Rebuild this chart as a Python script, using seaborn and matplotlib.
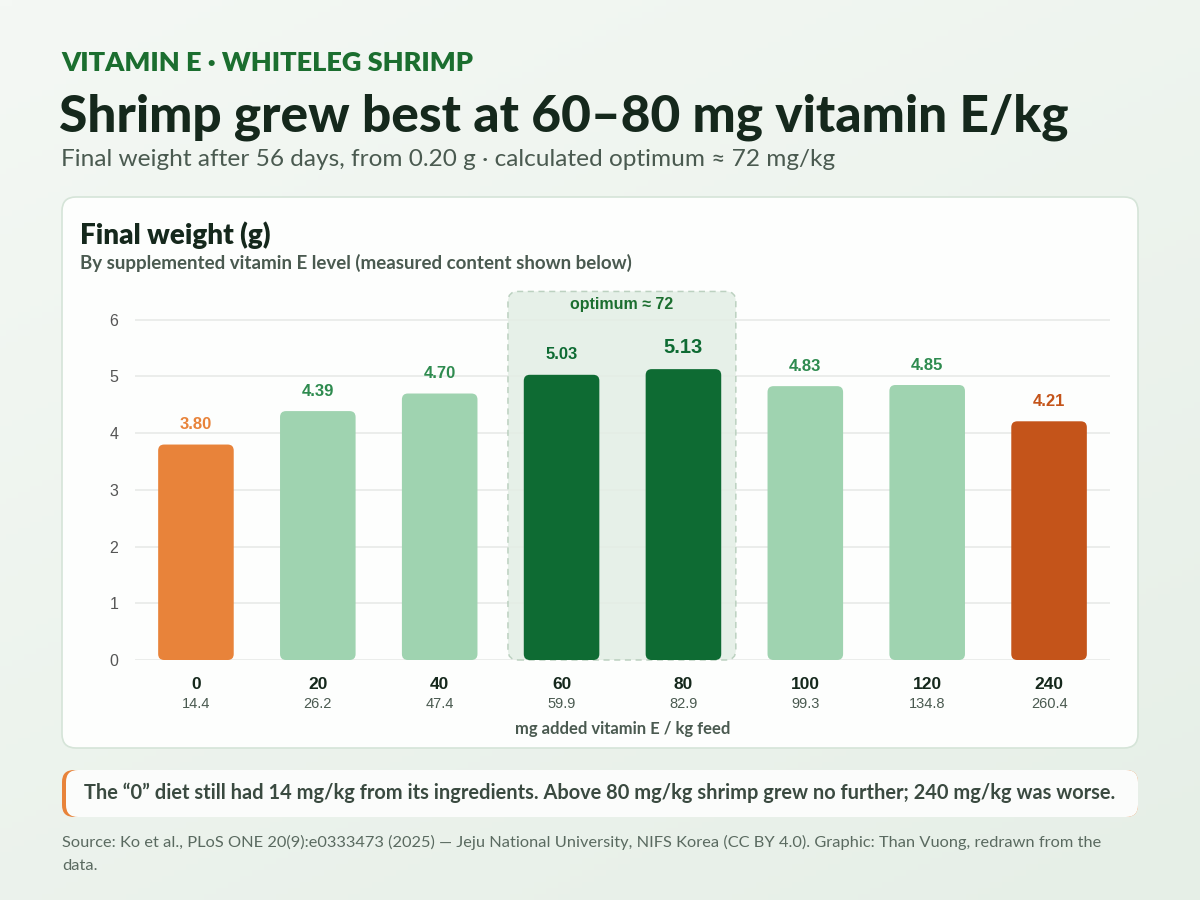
import numpy as np
import seaborn as sns
import matplotlib.pyplot as plt
from matplotlib.patches import FancyBboxPatch
from matplotlib.colors import LinearSegmentedColormap

# data
levels = ["0", "20", "40", "60", "80", "100", "120", "240"]
measured = ["14.4", "26.2", "47.4", "59.9", "82.9", "99.3", "134.8", "260.4"]
weights = [3.80, 4.39, 4.70, 5.03, 5.13, 4.83, 4.85, 4.21]
bar_colors = ["#E8833A", "#9FD3B0", "#9FD3B0", "#0E6B33", "#0E6B33", "#9FD3B0", "#9FD3B0", "#C4541A"]
label_colors = ["#E8833A", "#2E8B4F", "#2E8B4F", "#0E6B33", "#0E6B33", "#2E8B4F", "#2E8B4F", "#C4541A"]
optimum = 72

sns.set_theme(style="white")
plt.rcParams['font.family'] = ['Lato', 'DejaVu Sans']

fig = plt.figure(figsize=(12, 9), dpi=100)

# background in pixel coordinates
bg = fig.add_axes([0, 0, 1, 1])
bg.set_xlim(0, 1200)
bg.set_ylim(900, 0)
bg.axis("off")
grad = LinearSegmentedColormap.from_list("bg", ["#F4F8F4", "#E6EFE7"])
gx, gy = np.meshgrid(np.linspace(0, 1, 200), np.linspace(0, 1, 150))
bg.imshow(0.6 * gy + 0.4 * gx, cmap=grad, extent=(0, 1200, 900, 0), aspect="auto", zorder=0)

# header
bg.text(61, 63, "VITAMIN E · WHITELEG SHRIMP", fontsize=19.5, fontweight="heavy", color="#1B6E2F",
        va="center", ha="left")
bg.text(59, 117, "Shrimp grew best at 60–80 mg vitamin E/kg", fontsize=37, fontweight="black",
        color="#15281C", va="center", ha="left")
bg.text(61, 160, "Final weight after 56 days, from 0.20 g · calculated optimum ≈ 72 mg/kg", fontsize=17.6,
        color="#4A5A50", va="center", ha="left")

# card
bg.add_patch(FancyBboxPatch((62, 197), 1076, 551, boxstyle="round,pad=0,rounding_size=14",
                            fc="#FDFEFD", ec="#D5E4D8", lw=1.2, zorder=1))
bg.text(80, 235, "Final weight (g)", fontsize=20, fontweight="heavy", color="#15281C", va="center")
bg.text(80, 263, "By supplemented vitamin E level (measured content shown below)", fontsize=13.5,
        fontweight="bold", color="#4A5A50", va="center")

# note box
bg.add_patch(FancyBboxPatch((62, 770), 1076, 47, boxstyle="round,pad=0,rounding_size=12",
                            fc="#E8833A", ec="none", zorder=1))
bg.add_patch(FancyBboxPatch((66, 770), 1072, 47, boxstyle="round,pad=0,rounding_size=12",
                            fc="#FBFCFB", ec="none", zorder=2))
bg.text(84, 793, "The “0” diet still had 14 mg/kg from its ingredients. Above 80 mg/kg shrimp grew no further; "
        "240 mg/kg was worse.", fontsize=14.4, fontweight="bold", color="#3A4A40", va="center", zorder=3)

bg.text(62, 842, "Source: Ko et al., PLoS ONE 20(9):e0333473 (2025) — Jeju National University, NIFS Korea "
        "(CC BY 4.0). Graphic: Than Vuong, redrawn from the", fontsize=11.8, color="#5A6A60", va="center")
bg.text(62, 866, "data.", fontsize=11.8, color="#5A6A60", va="center")

# chart axes
ax = fig.add_axes([135 / 1200, 240 / 900, 975 / 1200, 6.5 * 56.7 / 900])
ax.set_facecolor("none")
df = {"level": levels, "weight": weights}
sns.barplot(x="level", y="weight", hue="level", data=df, palette=bar_colors, order=levels,
            legend=False, width=0.62, ax=ax, saturation=1, zorder=3)
ax.set_xlim(-0.5, len(levels) - 0.5)
ax.set_ylim(0, 6.5)
ax.set_yticks(range(0, 7))
ax.yaxis.grid(True, color="#E6E9E6", lw=1.1, zorder=0)
for s in ax.spines.values():
    s.set_visible(False)
ax.tick_params(axis="y", length=0, pad=12, labelsize=11.5, labelcolor="#555555")
for t in ax.get_yticklabels():
    t.set_fontfamily("Liberation Sans")
ax.set_ylabel("")
ax.set_xlabel("")

# value labels
for i, (bar, w) in enumerate(zip(ax.patches, weights)):
    big = w == max(weights)
    ax.annotate(f"{w:.2f}", (bar.get_x() + bar.get_width() / 2, bar.get_height()),
                xytext=(0, 9), textcoords="offset points", ha="center", va="bottom",
                fontsize=14.5 if big else 12, fontweight="bold", color=label_colors[i],
                family="Liberation Sans", zorder=5)

# rounded bars
x_unit = 975 / len(levels)
y_unit = 56.7
for bar in list(ax.patches):
    x, y, wd, h = bar.get_x(), bar.get_y(), bar.get_width(), bar.get_height()
    r = 6 / x_unit
    ax.add_patch(FancyBboxPatch((x, y), wd, h, boxstyle=f"round,pad=0,rounding_size={r}",
                                mutation_aspect=x_unit / y_unit, fc=bar.get_facecolor(), ec="none", zorder=3))
    bar.remove()

# optimum band
lo = levels.index("60") - 0.44
hi = levels.index("80") + 0.43
ax.add_patch(FancyBboxPatch((lo, 0), hi - lo, 6.5, boxstyle=f"round,pad=0,rounding_size={10 / x_unit}",
                            mutation_aspect=x_unit / y_unit, fc="#E3EEE5", ec="#B3CBB8", lw=1.1,
                            ls=(0, (4, 3)), alpha=0.85, zorder=1, clip_on=False))
ax.text((lo + hi) / 2, 6.27, f"optimum ≈ {optimum}", ha="center", va="center", fontsize=11.5,
        fontweight="bold", color="#1B6E2F", family="Liberation Sans", zorder=4)

# x labels
ax.set_xticks(range(len(levels)))
ax.set_xticklabels(levels, fontsize=12.5, fontweight="bold", color="#15281C", family="Liberation Sans")
ax.tick_params(axis="x", length=0, pad=12)
for i, m in enumerate(measured):
    ax.annotate(m, (i, 0), xycoords=("data", "axes fraction"), xytext=(0, -32), textcoords="offset points",
                ha="center", va="center", fontsize=10.5, color="#4A5A50", family="Liberation Sans")
ax.annotate("mg added vitamin E / kg feed", (0.5, 0), xycoords="axes fraction", xytext=(0, -49.5),
            textcoords="offset points", ha="center", va="center", fontsize=12, fontweight="bold",
            color="#4A5A50")

fig.savefig("out.png", dpi=100)
